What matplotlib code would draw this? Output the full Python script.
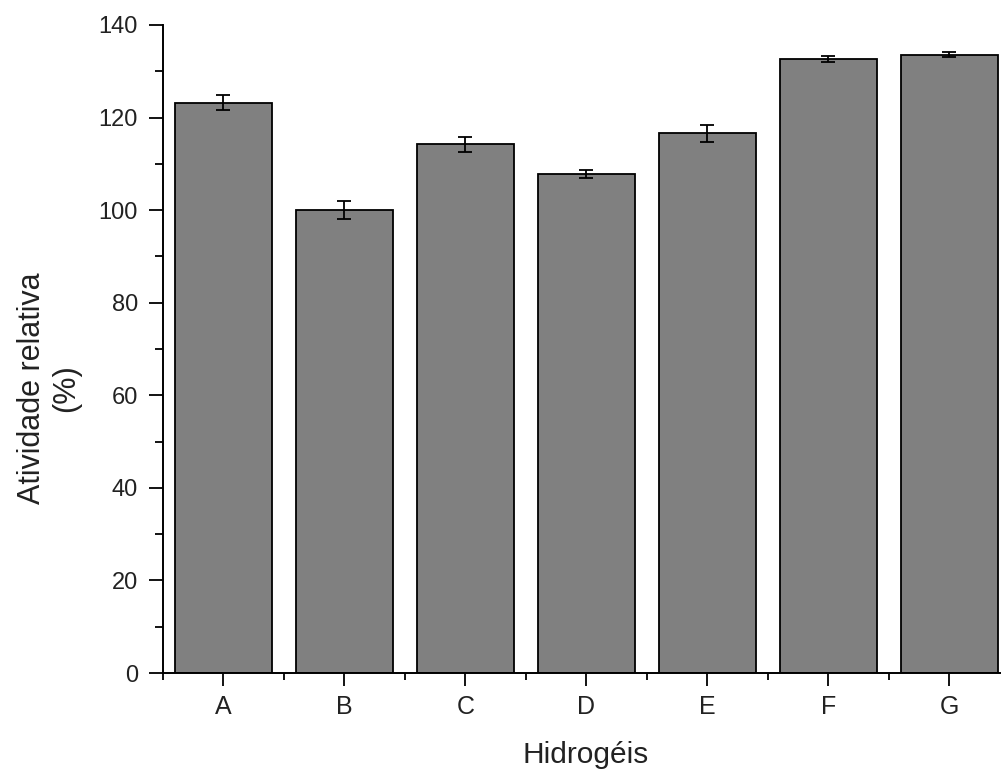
import matplotlib
matplotlib.use("Agg")
import matplotlib.pyplot as plt
from matplotlib.ticker import MultipleLocator, FixedLocator

plt.rcParams['font.family'] = ['Liberation Sans', 'DejaVu Sans']

categories = ['A', 'B', 'C', 'D', 'E', 'F', 'G']
activity = [123.2, 100.0, 114.2, 107.8, 116.6, 132.7, 133.6]
errors = [1.6, 2.0, 1.6, 0.8, 1.9, 0.6, 0.6]

text_color = '#222222'
W, H = 1001, 769

fig = plt.figure(figsize=(W / 100, H / 100), dpi=100)
ax = fig.add_axes([0.1628, 0.1248, 0.846, 0.8427])

x = list(range(len(categories)))
ax.bar(x, activity, width=0.8, color='#808080', edgecolor='black', linewidth=1.3,
       yerr=errors, capsize=5, error_kw=dict(ecolor='black', elinewidth=1.3, capthick=1.3),
       zorder=2)

ax.set_xlim(-0.5, 6.5)
ax.set_ylim(0, 140)

for side in ('top', 'right'):
    ax.spines[side].set_visible(False)
for side in ('left', 'bottom'):
    ax.spines[side].set_linewidth(1.4)
    ax.spines[side].set_color('black')

ax.set_xticks(x)
ax.set_xticklabels(categories)
ax.xaxis.set_minor_locator(FixedLocator([i - 0.5 for i in range(len(categories))]))
ax.yaxis.set_major_locator(MultipleLocator(20))
ax.yaxis.set_minor_locator(MultipleLocator(10))

ax.tick_params(axis='y', which='major', direction='out', length=10, width=1.3,
               labelsize=17, pad=8, labelcolor=text_color)
ax.tick_params(axis='y', which='minor', direction='out', length=5.5, width=1.3)
ax.tick_params(axis='x', which='major', direction='out', length=9, width=1.3,
               labelsize=18, pad=7, labelcolor=text_color)
ax.tick_params(axis='x', which='minor', direction='out', length=5, width=1.3)

# axis titles placed in figure pixel coordinates
fig.text(586 / W, 1 - 755 / H, 'Hidrogéis', fontsize=21.5, color=text_color,
         ha='center', va='center')
fig.text(49 / W, 1 - 388 / H, 'Atividade relativa\n(%)', fontsize=22,
         color=text_color, rotation=90, ha='center', va='center',
         multialignment='center', linespacing=1.15)

fig.savefig('out.png', dpi=100)
